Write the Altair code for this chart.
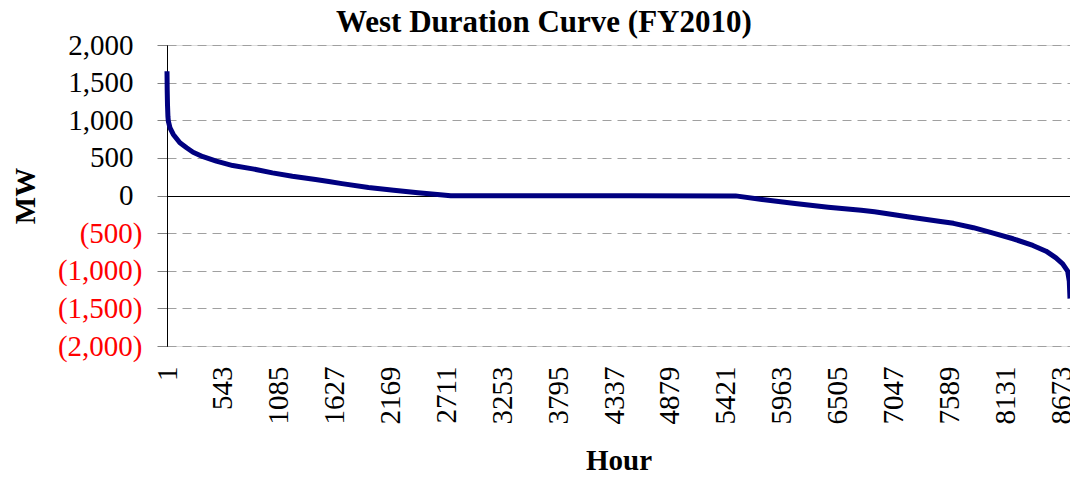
import altair as alt
import pandas as pd

# Sampled duration-curve readings (hour rank, MW)
hours = [1, 3, 6, 10, 14, 30, 62, 126, 191, 254, 350, 479, 639, 832, 1024, 1217,
         1442, 1570, 1698, 1955, 2200, 2436, 2650, 2753, 3500, 4500, 5516, 5773,
         6093, 6414, 6735, 6863, 7024, 7184, 7505, 7630, 7823, 8015, 8208, 8400,
         8528, 8624, 8689, 8737, 8753, 8760]
mw = [1650, 1400, 1200, 1050, 987, 900, 811, 700, 634, 575, 515, 456, 398, 354, 301, 256,
      212, 185, 158, 106, 70, 36, 10, -2, -3, -4, -5, -53,
      -106, -155, -195, -217, -248, -282, -345, -370, -428, -500, -575, -664,
      -740, -829, -908, -1005, -1138, -1370]

x_ticks = [1, 543, 1085, 1627, 2169, 2711, 3253, 3795, 4337, 4879, 5421, 5963,
           6505, 7047, 7589, 8131, 8673]
y_ticks_pos = [0, 500, 1000, 1500, 2000]
y_ticks_neg = [-2000, -1500, -1000, -500]

FONT = "Liberation Serif"

df = pd.DataFrame({"hour": hours, "mw": mw})

y_scale = alt.Scale(domain=[-2000, 2000], nice=False)

x_enc = alt.X(
    "hour:Q",
    scale=alt.Scale(domain=[1, 8760], nice=False, zero=False),
    axis=alt.Axis(
        values=x_ticks, format="d", labelAngle=270, domain=False, ticks=False, grid=False,
        labelPadding=20, labelFont=FONT, labelFontSize=29, labelColor="black",
        labelOverlap=False, labelFlush=False,
        title="Hour", titleFont=FONT, titleFontSize=29, titleFontWeight="bold",
        titleColor="black", titlePadding=22,
    ),
)

y_pos = alt.Y(
    "mw:Q",
    scale=y_scale,
    axis=alt.Axis(
        orient="left", values=y_ticks_pos,
        labelExpr="format(datum.value, ',')",
        labelColor="#000000", labelFont=FONT, labelFontSize=29, labelPadding=24,
        labelOverlap=False, labelBound=False, labelFlush=False,
        tickSize=10, tickColor="#808080", domainColor="#000000",
        grid=True,
        gridDash={"expr": "datum.value === 0 ? [] : [9, 6]"},
        gridColor={"expr": "datum.value === 0 ? '#000000' : '#a0a0a0'"},
        gridWidth=1,
        title="MW", titleFont=FONT, titleFontSize=29, titleFontWeight="bold",
        titleColor="black", titlePadding=27,
    ),
)

y_neg = alt.Y(
    "mw:Q",
    scale=y_scale,
    axis=alt.Axis(
        orient="left", values=y_ticks_neg,
        labelExpr="'(' + format(-datum.value, ',') + ')'",
        labelColor="#ff0000", labelFont=FONT, labelFontSize=29, labelPadding=15,
        labelOverlap=False, labelBound=False, labelFlush=False,
        tickSize=10, tickColor="#808080", domainColor="#000000",
        grid=True, gridDash=[9, 6], gridColor="#a0a0a0", gridWidth=1,
        title=None,
    ),
)

line = (
    alt.Chart(df)
    .mark_line(color="#000080", strokeWidth=5, strokeJoin="round")
    .encode(x=x_enc, y=y_pos)
)
ghost = (
    alt.Chart(df)
    .mark_line(color="#000080", strokeWidth=5, opacity=0)
    .encode(x=x_enc, y=y_neg)
)

chart = (
    alt.layer(ghost, line)
    .resolve_scale(y="shared")
    .resolve_axis(y="independent")
    .properties(
        width=903,
        height=301,
        title=alt.TitleParams(
            "West Duration Curve (FY2010)", font=FONT, fontSize=31,
            fontWeight="bold", anchor="middle", frame="bounds", color="black",
            offset=-8,
        ),
        autosize=alt.AutoSizeParams(type="none"),
        padding={"left": 159, "top": 37, "right": 0, "bottom": 124},
    )
    .configure_view(stroke=None)
    .configure(background="white")
)

chart.save("out.html", embed_options={"renderer": "svg", "actions": False})
